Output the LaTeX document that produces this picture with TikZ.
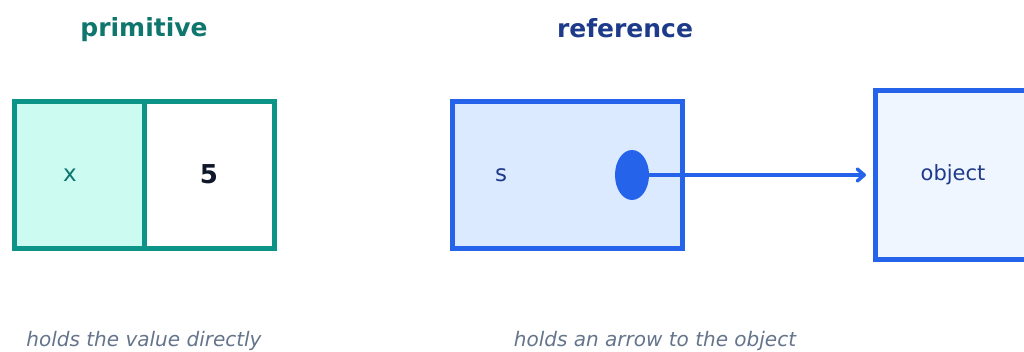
\documentclass[tikz,border=0pt]{standalone}
\usepackage{fontspec}
\setmainfont{DejaVu Sans}
\usetikzlibrary{arrows.meta,shapes.geometric}
\definecolor{tealline}{HTML}{0D9488}
\definecolor{tealtext}{HTML}{0F766E}
\definecolor{mintfill}{HTML}{CCFBF1}
\definecolor{blueline}{HTML}{2563EB}
\definecolor{bluetext}{HTML}{1E3A8A}
\definecolor{bluefill}{HTML}{DBEAFE}
\definecolor{palefill}{HTML}{EFF6FF}
\definecolor{inktext}{HTML}{0F172A}
\definecolor{greytext}{HTML}{64748B}
\tikzset{
  cellbox/.style={draw=tealline, line width=5pt, minimum height=147pt, inner sep=0pt},
  refbox/.style={draw=blueline, line width=5pt, inner sep=0pt},
  heading/.style={font=\fontsize{25}{30}\selectfont\bfseries},
  caption/.style={font=\fontsize{20}{24}\selectfont\itshape, text=greytext},
}
\begin{document}
\begin{tikzpicture}[x=1pt, y=-1pt]
\useasboundingbox (0,0) rectangle (1024,352);
\clip (0,0) rectangle (1024,352);

% titles
\node[heading, text=tealtext] (tprim) at (144,30) {primitive};
\node[heading, text=bluetext] (tref) at (625,28) {reference};

% primitive: name cell and value cell
\node[cellbox, fill=mintfill, minimum width=130pt] (xcell) at (79,175.5) {};
\node[cellbox, fill=white, minimum width=130pt] (vcell) at (209,175.5) {};
\node[text=tealtext, font=\fontsize{23}{27}\selectfont] (xlab) at (70,175) {x};
\node[text=inktext, font=\fontsize{26}{30}\selectfont\bfseries] (vlab) at (209,174.5) {5};

% reference variable
\node[refbox, fill=bluefill, minimum width=230pt, minimum height=147pt] (sbox) at (567,175.5) {};
\node[text=bluetext, font=\fontsize{23}{27}\selectfont] (slab) at (501,175) {s};
\node[ellipse, fill=blueline, minimum width=34pt, minimum height=50pt, inner sep=0pt] (dot) at (632,175) {};

% referenced object
\node[refbox, fill=palefill, minimum width=200pt, minimum height=169pt] (obj) at (975,175.5) {};
\node[text=bluetext, font=\fontsize{21}{25}\selectfont] (olab) at (953,175) {object};
\coordinate (tip) at (866,175);

% pointer
\draw[blueline, line width=4pt, -{Straight Barb[length=7pt, width=12pt, line width=3.5pt, round]}] (dot.east) -- (tip);

% captions
\node[caption] (cprim) at (144,341) {holds the value directly};
\node[caption] (cref) at (655,341) {holds an arrow to the object};
\end{tikzpicture}
\end{document}
